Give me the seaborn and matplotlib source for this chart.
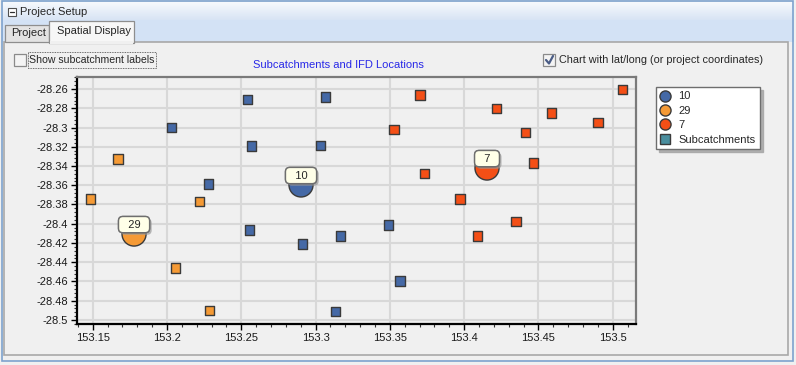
import numpy as np
import pandas as pd
import matplotlib
matplotlib.use("Agg")
import matplotlib.pyplot as plt
import matplotlib.patheffects as pe
from matplotlib.patches import Rectangle
from matplotlib.lines import Line2D
from matplotlib.ticker import AutoMinorLocator, FuncFormatter
import seaborn as sns

# =========================================
# DATA
# =========================================

IFD_NAMES = ["10", "29", "7"]
IFD_COLORS = ["#4569A6", "#F59A35", "#F44F16"]
SUB_COLOR = "#4A8E9E"

# IFD locations (circles with a label)
ifd_lon = [153.2902, 153.1778, 153.4154]
ifd_lat = [-28.3597, -28.4107, -28.3421]

# subcatchments per IFD location
sub_lon_10 = [153.2541, 153.3066, 153.2029, 153.2568, 153.3032, 153.2278,
              153.2554, 153.2911, 153.3167, 153.3490, 153.3568, 153.3133]
sub_lat_10 = [-28.2707, -28.2686, -28.2998, -28.3195, -28.3185, -28.3590,
              -28.4068, -28.4213, -28.4130, -28.4016, -28.4595, -28.4914]
sub_lon_29 = [153.1672, 153.1484, 153.2218, 153.2056, 153.2285]
sub_lat_29 = [-28.3330, -28.3746, -28.3767, -28.4463, -28.4903]
sub_lon_7 = [153.3705, 153.3530, 153.3732, 153.3974, 153.5065, 153.4217,
             153.4587, 153.4903, 153.4412, 153.4466, 153.4351, 153.4089]
sub_lat_7 = [-28.2665, -28.3019, -28.3476, -28.3746, -28.2603, -28.2801,
             -28.2849, -28.2946, -28.3050, -28.3372, -28.3975, -28.4130]

XTICKS = [153.15, 153.2, 153.25, 153.3, 153.35, 153.4, 153.45, 153.5]
YTICKS = [-28.26, -28.28, -28.3, -28.32, -28.34, -28.36, -28.38, -28.4,
          -28.42, -28.44, -28.46, -28.48, -28.5]

TITLE = "Subcatchments and IFD Locations"

# =========================================
# FRAMES
# =========================================

sub = pd.concat([
    pd.DataFrame({"lon": sub_lon_10, "lat": sub_lat_10, "ifd": "10"}),
    pd.DataFrame({"lon": sub_lon_29, "lat": sub_lat_29, "ifd": "29"}),
    pd.DataFrame({"lon": sub_lon_7, "lat": sub_lat_7, "ifd": "7"}),
], ignore_index=True)
ifd = pd.DataFrame({"lon": ifd_lon, "lat": ifd_lat, "ifd": IFD_NAMES})
palette = dict(zip(IFD_NAMES, IFD_COLORS))

sns.set_theme(style="white")
plt.rcParams["font.family"] = ["Liberation Sans", "DejaVu Sans"]
plt.rcParams["axes.unicode_minus"] = False

W, H = 796, 365
fig = plt.figure(figsize=(W / 100, H / 100), dpi=100)
fig.patch.set_facecolor("#F0F0F0")

# =========================================
# WINDOW CHROME (pixel coords)
# =========================================

bg = fig.add_axes([0, 0, 1, 1], zorder=0)
bg.set_xlim(0, W)
bg.set_ylim(H, 0)
bg.axis("off")

grad = np.linspace(0, 1, 40).reshape(-1, 1)
cmap = matplotlib.colors.LinearSegmentedColormap.from_list("hdr", ["#F6F9FD", "#D8E4F4"])
bg.imshow(grad, cmap=cmap, extent=(2, 794, 20, 2), aspect="auto", zorder=1)
bg.add_patch(Rectangle((2, 20), 792, 22, fc="#D3E2F5", ec="none", zorder=1))
bg.add_patch(Rectangle((2, 1), 791, 360, fc="none", ec="#7DA2CE", lw=1.2, zorder=5))
bg.add_patch(Rectangle((4, 42), 784, 313, fc="#F0F0F0", ec="#A8A8A8", lw=1.2, zorder=2))

# header icon + text
bg.add_patch(Rectangle((8, 8), 8, 8, fc="white", ec="#505050", lw=0.8, zorder=3))
bg.plot([10, 14], [12, 12], color="#303030", lw=0.9, zorder=4)
bg.text(20, 12, "Project Setup", fontsize=8, va="center", ha="left", zorder=4)

# tabs
bg.add_patch(Rectangle((5, 25), 44, 17, fc="#E3E3E3", ec="#8E8E8E", lw=0.9, zorder=3))
bg.text(11, 33.5, "Project", fontsize=8, va="center", ha="left", zorder=4)
bg.add_patch(Rectangle((49, 21), 85, 22, fc="#F7F7F7", ec="#8E8E8E", lw=0.9, zorder=3))
bg.add_patch(Rectangle((50, 41), 83, 3, fc="#F0F0F0", ec="none", zorder=4))
bg.text(57, 31, "Spatial Display", fontsize=8, va="center", ha="left", zorder=4)

# checkboxes
bg.add_patch(Rectangle((14, 54), 12, 12, fc="#F4F4F4", ec="#8A8A8A", lw=0.9, zorder=3))
bg.add_patch(Rectangle((28, 52), 128, 16, fc="none", ec="#404040", lw=0.6, ls=(0, (1, 1)), zorder=3))
bg.text(29, 60, "Show subcatchment labels", fontsize=7.6, va="center", ha="left", zorder=4)

bg.add_patch(Rectangle((543, 54), 12, 12, fc="#F4F4F4", ec="#8A8A8A", lw=0.9, zorder=3))
bg.plot([546, 549, 553], [60, 63.5, 56], color="#4A5C85", lw=1.6, zorder=4)
bg.text(559, 60, "Chart with lat/long (or project coordinates)", fontsize=7.85,
        va="center", ha="left", zorder=4)

bg.text(338, 65, TITLE, fontsize=8, color="#2828E8", va="center", ha="center", zorder=4)

# =========================================
# CHART
# =========================================

ax = fig.add_axes([77 / W, 1 - 324 / H, 559 / W, 247 / H], zorder=2)
ax.set_facecolor("#F0F0F0")

sns.scatterplot(data=sub, x="lon", y="lat", hue="ifd", palette=palette,
                marker="s", s=48, edgecolor="#3A3A3A", linewidth=1.0,
                legend=False, ax=ax, zorder=3)
sns.scatterplot(data=ifd, x="lon", y="lat", hue="ifd", palette=palette,
                marker="o", s=300, edgecolor="#3A3A3A", linewidth=1.0,
                legend=False, ax=ax, zorder=4)

for name, x, y in zip(IFD_NAMES, ifd_lon, ifd_lat):
    t = ax.annotate("  " + name + "  ", xy=(x, y), xytext=(0, 6.8),
                    textcoords="offset points", ha="center", va="center",
                    fontsize=8, zorder=6,
                    bbox=dict(boxstyle="round,pad=0.28,rounding_size=0.4",
                              fc="#FFFFE8", ec="#6E6E6E", lw=1.0))
    t.get_bbox_patch().set_path_effects([
        pe.withSimplePatchShadow(offset=(1.5, -1.5), shadow_rgbFace="#9A9A9A", alpha=0.7),
        pe.Normal()])

ax.set_xlim(153.1394, 153.5157)
ax.set_ylim(-28.5042, -28.2475)
ax.set_xticks(XTICKS)
ax.set_yticks(YTICKS)
ax.xaxis.set_minor_locator(AutoMinorLocator(5))
ax.yaxis.set_minor_locator(AutoMinorLocator(5))
fmt = FuncFormatter(lambda v, p: "{:g}".format(round(v, 3)))
ax.xaxis.set_major_formatter(fmt)
ax.yaxis.set_major_formatter(fmt)
ax.set_xlabel("")
ax.set_ylabel("")

ax.grid(True, which="major", color="#D8D8D8", lw=1.5, zorder=0)
ax.set_axisbelow(True)
ax.tick_params(which="major", direction="out", length=4, width=1.0,
               color="black", labelsize=8, pad=2.5, labelcolor="#1A1A1A",
               bottom=True, left=True)
ax.tick_params(which="minor", direction="out", length=2, width=0.8,
               color="#333333", bottom=True, left=True)
for side in ["left", "bottom"]:
    ax.spines[side].set_color("black")
    ax.spines[side].set_linewidth(1.6)
for side in ["top", "right"]:
    ax.spines[side].set_color("#7A7A7A")
    ax.spines[side].set_linewidth(1.6)

# legend
handles = [Line2D([], [], marker="o", ls="", markersize=8, markerfacecolor=c,
                  markeredgecolor="#3A3A3A", markeredgewidth=1.0) for c in IFD_COLORS]
handles.append(Line2D([], [], marker="s", ls="", markersize=7, markerfacecolor=SUB_COLOR,
                      markeredgecolor="#3A3A3A", markeredgewidth=1.0))
leg = fig.legend(handles, IFD_NAMES + ["Subcatchments"], loc="upper left",
                 bbox_to_anchor=(656 / W, 1 - 87 / H), fontsize=8, frameon=True,
                 fancybox=False, shadow={"color": "#A8A8A8", "alpha": 0.9},
                 handlelength=0.8, handletextpad=0.8,
                 labelspacing=0.4, borderpad=0.4, borderaxespad=0)
leg.get_frame().set_edgecolor("#6E6E6E")
leg.get_frame().set_facecolor("white")
leg.get_frame().set_linewidth(1.0)

fig.savefig("out.png", dpi=100, facecolor=fig.get_facecolor())
